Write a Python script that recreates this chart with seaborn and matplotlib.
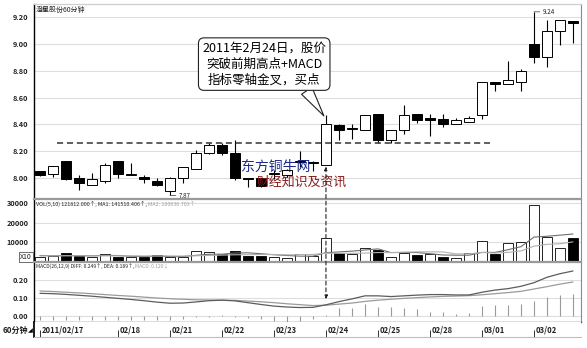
import numpy as np
import pandas as pd
import matplotlib
matplotlib.use("Agg")
import matplotlib.pyplot as plt
import matplotlib.transforms as mtransforms
from matplotlib.patches import ConnectionPatch
import seaborn as sns

# ---------------- data ----------------
opens  = [8.05, 8.03, 8.13, 8.00, 7.95, 7.98, 8.13, 8.025, 8.005, 7.98,
          7.90, 8.00, 8.07, 8.19, 8.25, 8.19, 8.00, 8.00, 8.03, 8.02,
          8.12, 8.12, 8.10, 8.395, 8.37, 8.36, 8.475, 8.28, 8.36, 8.475,
          8.45, 8.44, 8.40, 8.42, 8.47, 8.72, 8.70, 8.72, 9.00, 8.90,
          9.10, 9.175]
highs  = [8.055, 8.09, 8.13, 8.02, 8.04, 8.11, 8.13, 8.11, 8.02, 8.00,
          8.01, 8.085, 8.21, 8.26, 8.26, 8.28, 8.00, 8.00, 8.06, 8.07,
          8.20, 8.125, 8.47, 8.40, 8.40, 8.47, 8.475, 8.36, 8.545, 8.48,
          8.48, 8.48, 8.445, 8.46, 8.72, 8.72, 8.87, 8.815, 9.24, 9.18,
          9.18, 9.175]
lows   = [8.015, 8.01, 7.985, 7.91, 7.95, 7.96, 8.00, 8.02, 7.96, 7.94,
          7.87, 7.96, 8.07, 8.18, 8.17, 7.985, 7.935, 7.93, 7.99, 8.01,
          8.085, 8.05, 8.10, 8.28, 8.29, 8.36, 8.26, 8.26, 8.33, 8.41,
          8.31, 8.38, 8.40, 8.42, 8.44, 8.65, 8.70, 8.65, 8.86, 8.83,
          8.99, 9.01]
closes = [8.02, 8.09, 7.99, 7.96, 7.99, 8.10, 8.03, 8.03, 7.99, 7.95,
          8.00, 8.08, 8.19, 8.25, 8.19, 8.00, 7.99, 7.94, 8.04, 8.06,
          8.125, 8.115, 8.40, 8.36, 8.365, 8.47, 8.28, 8.36, 8.47, 8.43,
          8.43, 8.40, 8.43, 8.45, 8.72, 8.70, 8.73, 8.80, 8.90, 9.10,
          9.18, 9.16]

volumes = [2500, 3000, 4200, 2800, 2200, 3700, 2500, 2200, 2200, 3400,
           2500, 2500, 5400, 4800, 3700, 5600, 3000, 3000, 2200, 1700,
           3900, 3000, 12000, 4200, 3700, 6800, 5900, 2500, 4500, 3400,
           3900, 2500, 2000, 4500, 10600, 3900, 9400, 9900, 29200, 12800,
           6800, 12300]
vol_up = [1, 1, 0, 0, 1, 1, 0, 1, 0, 0,
          1, 1, 1, 1, 0, 0, 0, 0, 1, 1,
          1, 1, 1, 0, 1, 1, 0, 1, 1, 0,
          1, 0, 1, 1, 1, 0, 1, 1, 1, 1,
          1, 0]
vol_ma5 = [3100, 3000, 3100, 3000, 2940, 3180, 3080, 2680, 2560, 2800,
           2560, 2560, 3200, 3720, 3780, 4400, 4500, 4020, 3500, 3100,
           2760, 2760, 4560, 4960, 5360, 5940, 6520, 4620, 4680, 4620,
           4040, 3360, 3260, 3260, 4700, 4700, 6080, 7660, 12600, 13040,
           13620, 14200]
vol_ma10 = [2900, 2900, 2950, 2950, 2900, 2900, 2900, 2880, 2870, 2870,
            2870, 2820, 2940, 3140, 3290, 3480, 3530, 3610, 3610, 3440,
            3580, 3630, 4290, 4230, 4230, 4350, 4640, 4590, 4820, 4990,
            4990, 4940, 3940, 3970, 4660, 4370, 4720, 5460, 7930, 8870,
            9160, 10140]

diff = [0.126, 0.124, 0.120, 0.115, 0.110, 0.104, 0.098, 0.092, 0.085, 0.077,
        0.071, 0.072, 0.078, 0.085, 0.088, 0.084, 0.074, 0.064, 0.055, 0.050,
        0.047, 0.048, 0.062, 0.080, 0.095, 0.112, 0.112, 0.108, 0.112, 0.116,
        0.119, 0.119, 0.117, 0.117, 0.132, 0.144, 0.152, 0.165, 0.185, 0.215,
        0.235, 0.250]
dea  = [0.139, 0.136, 0.132, 0.128, 0.124, 0.119, 0.114, 0.110, 0.105, 0.100,
        0.096, 0.093, 0.090, 0.089, 0.088, 0.087, 0.083, 0.079, 0.074, 0.068,
        0.063, 0.058, 0.060, 0.066, 0.072, 0.081, 0.088, 0.093, 0.098, 0.102,
        0.106, 0.109, 0.111, 0.113, 0.118, 0.124, 0.130, 0.137, 0.150, 0.163,
        0.177, 0.189]
macd = [-0.020, -0.020, -0.020, -0.020, -0.022, -0.022, -0.022, -0.024, -0.024, -0.024,
        -0.022, -0.018, -0.008, -0.004, 0.003, -0.004, -0.012, -0.018, -0.026, -0.040,
        -0.028, -0.018, 0.006, 0.044, 0.044, 0.066, 0.052, 0.050, 0.044, 0.040,
        0.024, 0.020, 0.012, 0.014, 0.054, 0.060, 0.062, 0.066, 0.084, 0.106,
        0.118, 0.120]

date_pos = [0, 6, 10, 14, 18, 22, 26, 30, 34, 38]
date_labels = ["2011/02/17", "02/18", "02/21", "02/22", "02/23",
               "02/24", "02/25", "02/28", "03/01", "03/02"]

price_ticks = [8.00, 8.20, 8.40, 8.60, 8.80, 9.00, 9.20]
vol_ticks = [10000, 20000, 30000]
macd_ticks = [0.00, 0.10, 0.20]

# ---------------- style ----------------
sns.set_theme(style="white")
plt.rcParams["font.family"] = ["Noto Sans CJK SC", "DejaVu Sans"]
plt.rcParams["axes.unicode_minus"] = False

W, H = 587, 348
fig = plt.figure(figsize=(W / 100, H / 100), dpi=100)
fig.patch.set_facecolor("white")


def px_axes(x0, y0, x1, y1):
    return fig.add_axes([x0 / W, 1 - y1 / H, (x1 - x0) / W, (y1 - y0) / H])


ax_p = px_axes(34, 4, 581, 199)
ax_v = px_axes(34, 199, 581, 262)
ax_m = px_axes(34, 262, 581, 322)
ax_d = px_axes(34, 322, 581, 337)

df = pd.DataFrame({"x": np.arange(len(opens)), "open": opens, "high": highs,
                   "low": lows, "close": closes, "vol": volumes, "vol_up": vol_up,
                   "ma5": vol_ma5, "ma10": vol_ma10, "diff": diff, "dea": dea,
                   "macd": macd})
x = df["x"].to_numpy()
xlim = (-0.46, 41.62)

GRID = "#dedede"
TXT = "#222222"

# ---------------- price panel ----------------
up = df["close"] >= df["open"]
body = df["close"] - df["open"]
body = np.where(np.abs(body) < 0.005, np.where(up, 0.005, -0.005), body)
ax_p.vlines(x, df["low"], df["high"], color="black", lw=0.8, zorder=2)
ax_p.bar(x, body, bottom=df["open"], width=0.74,
         color=np.where(up, "white", "black"), edgecolor="black", lw=0.7, zorder=3)
ax_p.set_xlim(*xlim)
ax_p.set_ylim(7.8433, 9.2985)
ax_p.set_yticks(price_ticks)
ax_p.set_yticklabels([f"{t:.2f}" for t in price_ticks])
ax_p.set_yticks(np.arange(7.88, 9.29, 0.04), minor=True)

# dashed resistance line
ax_p.hlines(8.26, 1.3, 34.6, colors="#333333", linestyles=(0, (4, 2.5)), lw=1.1, zorder=4)

# high / low markers
ax_p.annotate("9.24", xy=(38, 9.24), xytext=(38.7, 9.24), fontsize=4.5, va="center",
              color=TXT, arrowprops=dict(arrowstyle="-", lw=0.5, color="#333", shrinkA=0, shrinkB=0))
ax_p.annotate("7.87", xy=(10, 7.87), xytext=(10.7, 7.866), fontsize=4.5, va="center",
              color=TXT, arrowprops=dict(arrowstyle="-", lw=0.5, color="#333", shrinkA=0, shrinkB=0))

# header
ax_p.text(0.003, 0.992, "澄星股份60分钟", transform=ax_p.transAxes, fontsize=5,
          va="top", ha="left", color=TXT)

# watermark
ax_p.text(18.1, 8.082, "东方铜牛网", color="#1c2a8c", fontsize=10, ha="center",
          va="center", zorder=6)
ax_p.text(20.1, 7.968, "财经知识及资讯", color="#8b1a1a", fontsize=9.3, ha="center",
          va="center", zorder=6)

# callout
ax_p.annotate("2011年2月24日，股价\n突破前期高点+MACD\n指标零轴金叉，买点",
              xy=(21.9, 8.455), xycoords="data", xytext=(17.25, 8.85), textcoords="data",
              ha="center", va="center", fontsize=9, linespacing=1.3, color="#000",
              fontweight="medium",
              bbox=dict(boxstyle="round,pad=0.3,rounding_size=0.45", fc="white",
                        ec="#222", lw=0.8),
              arrowprops=dict(arrowstyle="wedge,tail_width=1.0,shrink_factor=0.5",
                              fc="white", ec="#222", lw=0.8, relpos=(0.82, 0.0),
                              shrinkA=0, shrinkB=1),
              zorder=7)

# ---------------- volume panel ----------------
ax_v.bar(x, df["vol"], width=0.75,
         color=np.where(df["vol_up"] == 1, "white", "black"),
         edgecolor="black", lw=0.6, zorder=2)
sns.lineplot(data=df, x="x", y="ma5", ax=ax_v, color="#6e6e6e", lw=0.8, zorder=4)
sns.lineplot(data=df, x="x", y="ma10", ax=ax_v, color="#b0b0b0", lw=0.8, zorder=4)
ax_v.set_xlim(*xlim)
ax_v.set_ylim(-258, 32300)
ax_v.set_yticks(vol_ticks)
ax_v.set_yticklabels([str(t) for t in vol_ticks])
ax_v.text(-0.004, 0.02, "X10", transform=ax_v.transAxes, ha="right", va="bottom",
          fontsize=5, color=TXT,
          bbox=dict(boxstyle="square,pad=0.12", fc="white", ec="#333", lw=0.5))
t1 = ax_v.text(0.003, 0.975, "VOL(5,10) 121812.000↑, MA1: 141510.406↑, ",
               transform=ax_v.transAxes, fontsize=3.9, va="top", ha="left", color=TXT)
ax_v.annotate("MA2: 100636.703↑", xy=(1, 0), xycoords=t1, va="bottom", ha="left",
              fontsize=3.9, color="#a0a0a0")

# ---------------- MACD panel ----------------
ax_m.vlines(x, 0, df["macd"], color="#9a9a9a", lw=0.8, zorder=2)
sns.lineplot(data=df, x="x", y="dea", ax=ax_m, color="#9a9a9a", lw=0.9, zorder=3)
sns.lineplot(data=df, x="x", y="diff", ax=ax_m, color="#5c5c5c", lw=0.9, zorder=3)
ax_m.set_xlim(*xlim)
ax_m.set_ylim(-0.0333, 0.300)
ax_m.set_yticks(macd_ticks)
ax_m.set_yticklabels([f"{t:.2f}" for t in macd_ticks])
t2 = ax_m.text(0.003, 0.985, "MACD(26,12,9) DIFF: 0.249↑, DEA: 0.189↑, ",
               transform=ax_m.transAxes, fontsize=3.6, va="top", ha="left", color=TXT)
ax_m.annotate("MACD: 0.120↓", xy=(1, 0), xycoords=t2, va="bottom", ha="left",
              fontsize=3.6, color="#a0a0a0")

# ---------------- common axis styling ----------------
for ax in (ax_p, ax_v, ax_m):
    ax.set_xticks([])
    ax.set_xlabel("")
    ax.set_ylabel("")
    ax.grid(axis="y", color=GRID, lw=0.8)
    ax.set_axisbelow(True)
    ax.tick_params(axis="y", which="major", direction="out", length=2.5, width=0.7,
                   pad=1.5, labelsize=5.3, colors=TXT)
    ax.tick_params(axis="y", which="minor", direction="out", length=1.2, width=0.5,
                   colors="#444")
    for lab in ax.get_yticklabels():
        lab.set_fontweight("bold")
    ax.spines["left"].set_color("black")
    ax.spines["left"].set_linewidth(1.0)
    ax.spines["right"].set_color("#8a8a8a")
    ax.spines["right"].set_linewidth(0.8)
    ax.spines["bottom"].set_visible(False)
    ax.spines["top"].set_color("#9a9a9a")
    ax.spines["top"].set_linewidth(1.6)
ax_p.spines["top"].set_color("#cfcfcf")
ax_p.spines["top"].set_linewidth(0.9)
ax_m.spines["bottom"].set_visible(True)
ax_m.spines["bottom"].set_color("#555555")
ax_m.spines["bottom"].set_linewidth(1.0)

# ---------------- date row ----------------
ax_d.set_xlim(*xlim)
ax_d.set_ylim(0, 1)
ax_d.set_yticks([])
ax_d.set_xticks(date_pos)
ax_d.set_xticklabels([])
ax_d.tick_params(axis="x", direction="in", length=5, width=0.7, colors="#333",
                 bottom=True)
for sp in ("top", "right"):
    ax_d.spines[sp].set_visible(False)
ax_d.spines["left"].set_color("black")
ax_d.spines["bottom"].set_color("#bdbdbd")
ax_d.spines["bottom"].set_linewidth(0.8)
blend = mtransforms.blended_transform_factory(ax_d.transData, ax_d.transAxes)
for p, lab in zip(date_pos, date_labels):
    ax_d.text(p + 0.15, 0.5, lab, transform=blend, fontsize=5.5, fontweight="bold",
              ha="left", va="center", color=TXT)
fig.text(3 / W, 1 - 330 / H, "60分钟", fontsize=5.8, fontweight="bold",
         ha="left", va="center", color=TXT)
fig.text(28 / W, 1 - 331 / H, "◢", fontsize=4.5, ha="left", va="center",
         color="black", family=["DejaVu Sans"])

# ---------------- breakout arrow across panels ----------------
con = ConnectionPatch(xyA=(22, 8.085), coordsA=ax_p.transData,
                      xyB=(22, 0.094), coordsB=ax_m.transData,
                      arrowstyle="<|-|>", mutation_scale=5, lw=0.8,
                      linestyle=(0, (3.5, 2.5)), color="#222", zorder=8)
fig.add_artist(con)

fig.savefig("out.png", dpi=100, facecolor="white")
